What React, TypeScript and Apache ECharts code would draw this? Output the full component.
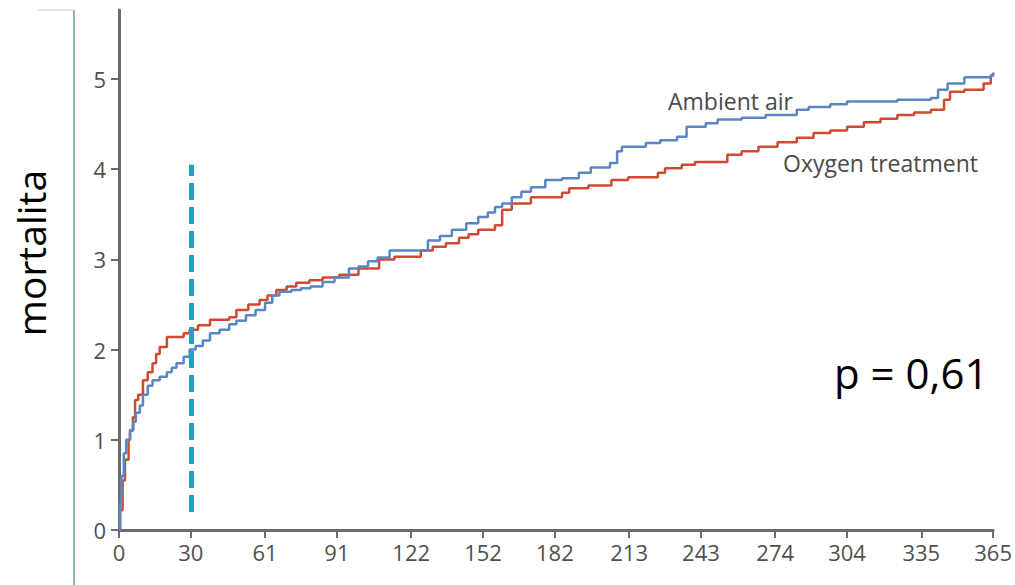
import React, { useEffect, useRef } from "react";
import * as echarts from "echarts";

const xTicks = [0, 30, 61, 91, 122, 152, 182, 213, 243, 274, 304, 335, 365];
const yTicks = [0, 1, 2, 3, 4, 5];

const ambientAir: [number, number][] = [
  [0, 0], [0.5, 0.3], [1, 0.6], [2, 0.85], [3, 1.0], [4.6, 1.11], [6, 1.2], [7, 1.3],
  [8.7, 1.38], [10, 1.5], [12, 1.6], [14, 1.66], [17, 1.7], [20, 1.75], [22, 1.8],
  [24, 1.85], [27, 1.92], [29.5, 2.0], [32, 2.04], [35, 2.1], [38, 2.18], [42, 2.22],
  [46, 2.28], [49, 2.32], [53, 2.38], [57, 2.44], [61, 2.52], [64, 2.6], [67, 2.64],
  [72, 2.66], [76, 2.68], [80, 2.7], [85, 2.75], [90, 2.8], [96, 2.9], [100, 2.92],
  [104, 2.98], [108, 3.02], [113, 3.1], [125, 3.1], [129, 3.21], [134, 3.26], [139, 3.33],
  [145, 3.4], [150, 3.47], [154, 3.52], [157, 3.58], [160, 3.62], [164, 3.69], [168, 3.75],
  [172, 3.8], [178, 3.88], [185, 3.9], [192, 3.96], [197, 4.02], [205, 4.07], [208, 4.2],
  [210, 4.25], [220, 4.29], [226, 4.32], [233, 4.36], [237, 4.47], [245, 4.51], [250, 4.55],
  [260, 4.57], [270, 4.6], [283, 4.66], [288, 4.69], [297, 4.72], [304, 4.75], [325, 4.77],
  [339, 4.79], [342, 4.88], [346, 4.95], [353, 5.02], [364, 5.04], [365, 5.07],
];

const oxygenTreatment: [number, number][] = [
  [0, 0], [0.4, 0.22], [1.5, 0.55], [2.5, 0.78], [4, 1.0], [4.6, 1.1], [5.8, 1.25],
  [6.7, 1.44], [8, 1.5], [10, 1.66], [12, 1.75], [14, 1.85], [15.5, 1.95], [17, 2.03],
  [20, 2.14], [24, 2.14], [27, 2.18], [29.5, 2.22], [33, 2.27], [38, 2.33], [46, 2.36],
  [49, 2.44], [54, 2.5], [58.7, 2.55], [62, 2.6], [65.7, 2.66], [70, 2.7], [74, 2.74],
  [79.5, 2.77], [85, 2.8], [92, 2.83], [100, 2.9], [108.6, 3.0], [115, 3.03], [126, 3.1],
  [131, 3.14], [136.5, 3.18], [142, 3.24], [146, 3.28], [150, 3.33], [157, 3.38], [160, 3.55],
  [164, 3.62], [172, 3.69], [185, 3.74], [188, 3.79], [196, 3.82], [205.6, 3.88],
  [212.6, 3.91], [225, 3.96], [228, 4.01], [235, 4.05], [240.5, 4.08], [254, 4.16],
  [260, 4.2], [267, 4.25], [275, 4.3], [283, 4.35], [290, 4.4], [297, 4.43], [304, 4.47],
  [311, 4.52], [318, 4.56], [325, 4.6], [332, 4.63], [339, 4.66], [344.5, 4.77], [347, 4.86],
  [353, 4.88], [361, 4.95], [364, 5.04], [365, 5.07],
];

const cutoffDay = 30;
const cutoffRange = [0.2, 4.05];

const labelAmbient = "Ambient air";
const labelOxygen = "Oxygen treatment";
const yTitle = "mortalita";
const pValue = "p = 0,61";

export default function App() {
  const ref = useRef<HTMLDivElement>(null);
  useEffect(() => {
    if (!ref.current) return;
    const chart = echarts.init(ref.current, undefined, { renderer: "svg" });
    const axisColor = "#6b6b6b";
    const labelStyle = {
      color: "#505050",
      fontFamily: "Open Sans",
      fontSize: 22,
    };
    chart.setOption({
      animation: false,
      backgroundColor: "#fff",
      grid: { left: 119, right: 19, top: 10, bottom: 55, containLabel: false },
      xAxis: {
        type: "value",
        min: 0,
        max: 365,
        splitLine: { show: false },
        axisLine: { lineStyle: { color: axisColor, width: 3 } },
        axisTick: { customValues: xTicks, length: 8, lineStyle: { color: axisColor, width: 2 } },
        axisLabel: { customValues: xTicks, margin: 11, ...labelStyle },
      },
      yAxis: {
        type: "value",
        min: 0,
        max: 5.765,
        splitLine: { show: false },
        axisLine: { show: true, lineStyle: { color: axisColor, width: 3 } },
        axisTick: { show: true, customValues: yTicks, length: 8, lineStyle: { color: axisColor, width: 2 } },
        axisLabel: { customValues: yTicks, margin: 13, ...labelStyle },
      },
      series: [
        {
          name: labelOxygen,
          type: "line",
          step: "end",
          data: oxygenTreatment,
          showSymbol: false,
          lineStyle: { color: "#cf4a30", width: 2.5 },
          z: 2,
        },
        {
          name: labelAmbient,
          type: "line",
          step: "end",
          data: ambientAir,
          showSymbol: false,
          lineStyle: { color: "#5a86c4", width: 2.5 },
          z: 3,
          markLine: {
            silent: true,
            symbol: ["none", "none"],
            label: { show: false },
            lineStyle: { color: "#1da3c0", width: 5, type: [17, 7] },
            data: [[{ coord: [cutoffDay, cutoffRange[0]] }, { coord: [cutoffDay, cutoffRange[1]] }]],
          },
        },
      ],
      graphic: [
        { type: "line", shape: { x1: 74, y1: 10, x2: 74, y2: 585 }, style: { stroke: "#7096aa", lineWidth: 1.5 } },
        { type: "line", shape: { x1: 38, y1: 10, x2: 74, y2: 10 }, style: { stroke: "#cccccc", lineWidth: 1 } },
        {
          type: "text",
          x: 30,
          y: 253,
          rotation: Math.PI / 2,
          style: {
            text: yTitle,
            fontFamily: "Open Sans",
            fontSize: 39,
            fill: "#000",
            align: "center",
            verticalAlign: "middle",
          },
        },
        {
          type: "text",
          x: 834,
          y: 372,
          style: {
            text: pValue,
            fontFamily: "Open Sans",
            fontSize: 42,
            fill: "#000",
            align: "left",
            verticalAlign: "middle",
          },
        },
        {
          type: "text",
          x: 668,
          y: 101,
          style: {
            text: labelAmbient,
            fontFamily: "Open Sans",
            fontSize: 23,
            fill: "#4a4a4a",
            align: "left",
            verticalAlign: "middle",
          },
        },
        {
          type: "text",
          x: 783,
          y: 163,
          style: {
            text: labelOxygen,
            fontFamily: "Open Sans",
            fontSize: 23,
            fill: "#4a4a4a",
            align: "left",
            verticalAlign: "middle",
          },
        },
      ],
    });
    return () => chart.dispose();
  }, []);
  return (
    <div
      ref={ref}
      style={{ position: "absolute", left: 0, top: 0, width: 1015, height: 585 }}
    />
  );
}
